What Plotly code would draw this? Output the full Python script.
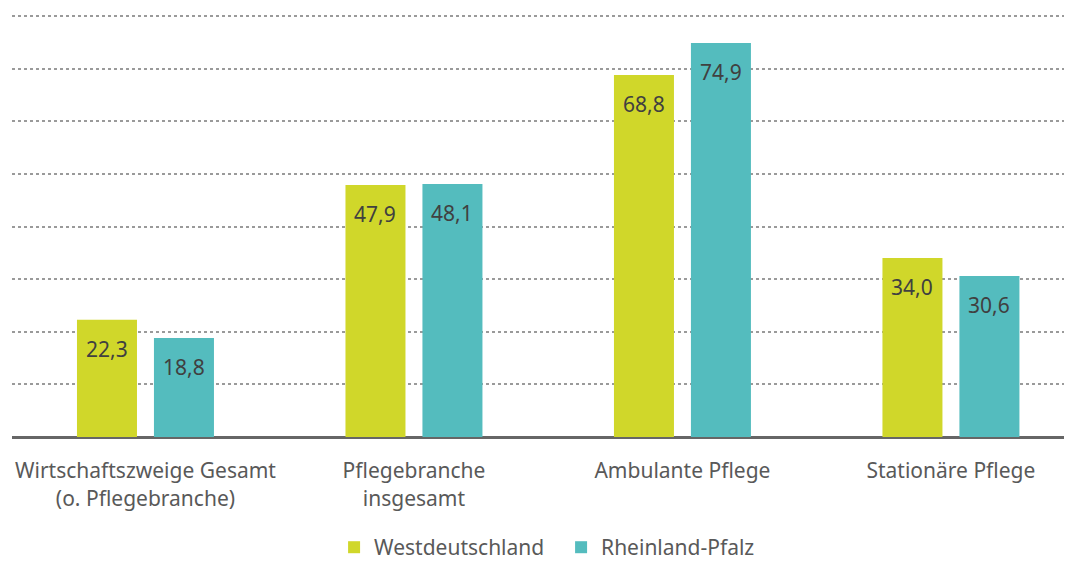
import plotly.graph_objects as go

categories = ["Wirtschaftszweige Gesamt<br>(o. Pflegebranche)", "Pflegebranche<br>insgesamt",
              "Ambulante Pflege", "Stationäre Pflege"]
series_names = ["Westdeutschland", "Rheinland-Pfalz"]
west = [22.3, 47.9, 68.8, 34.0]
rlp = [18.8, 48.1, 74.9, 30.6]
colors = ["#D0D72A", "#54BCBE"]

FONT = "Noto Sans"
pos = list(range(len(categories)))
bar_w = 0.2235
offsets = [-0.255, 0.0317]

fig = go.Figure()
annotations = []
for name, vals, col, off in zip(series_names, [west, rlp], colors, offsets):
    fig.add_trace(go.Bar(
        x=pos, y=vals, name=name, marker=dict(color=col, line=dict(width=0)),
        width=bar_w, offset=off, hoverinfo="skip"))
    for p, v in zip(pos, vals):
        annotations.append(dict(
            x=p + off + bar_w / 2, y=v, xref="x", yref="y",
            text=f"{v:.1f}".replace(".", ","), showarrow=False,
            yanchor="middle", yshift=-29,
            font=dict(family=FONT, size=21, color="#404040")))

fig.update_layout(
    width=1072, height=561,
    margin=dict(l=4, r=8, t=7, b=132, autoexpand=False),
    paper_bgcolor="white", plot_bgcolor="white",
    barmode="overlay",
    showlegend=True,
    legend=dict(orientation="h", x=0.518, xanchor="center", y=-0.262, yanchor="middle",
                font=dict(family=FONT, size=21, color="#595959"),
                entrywidth=182, entrywidthmode="pixels",
                itemclick=False),
    annotations=annotations,
    xaxis=dict(range=[-0.497, 3.451], tickvals=pos, ticktext=categories,
               tickfont=dict(family=FONT, size=21, color="#595959"),
               ticks="outside", ticklen=15, tickcolor="rgba(0,0,0,0)",
               showgrid=False, zeroline=False, showline=False, fixedrange=True),
    yaxis=dict(range=[0, 80.2], dtick=10, showticklabels=False,
               showgrid=True, gridcolor="#9a9a9a", gridwidth=1.5, griddash="dot",
               zeroline=True, zerolinecolor="#666666", zerolinewidth=2.5,
               fixedrange=True),
)

fig.write_html("out.html")
